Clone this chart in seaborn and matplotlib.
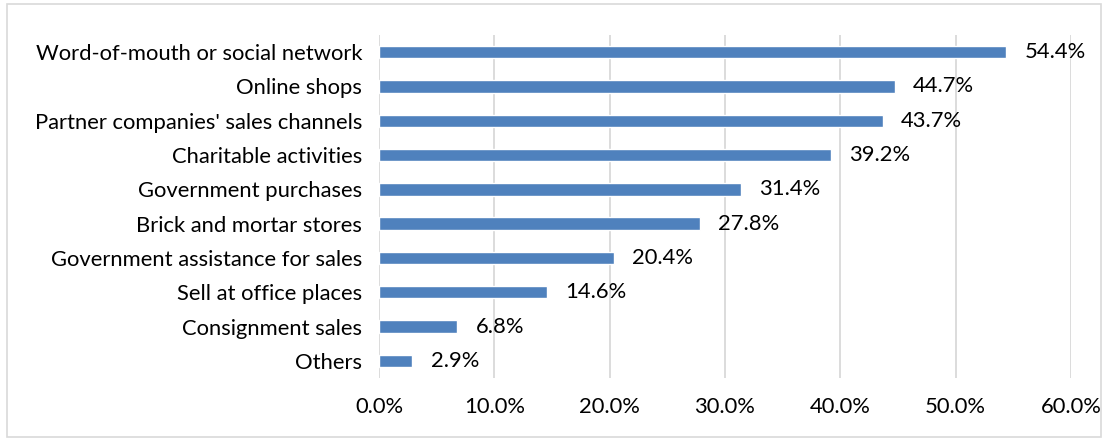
import matplotlib
matplotlib.use("Agg")
import matplotlib.pyplot as plt
import seaborn as sns
import pandas as pd
from matplotlib.patches import Rectangle
from matplotlib.ticker import FuncFormatter

categories = [
    "Word-of-mouth or social network",
    "Online shops",
    "Partner companies' sales channels",
    "Charitable activities",
    "Government purchases",
    "Brick and mortar stores",
    "Government assistance for sales",
    "Sell at office places",
    "Consignment sales",
    "Others",
]
values = [54.4, 44.7, 43.7, 39.2, 31.4, 27.8, 20.4, 14.6, 6.8, 2.9]
xticks = [0, 10, 20, 30, 40, 50, 60]

df = pd.DataFrame({"channel": categories, "pct": values})

sns.set_theme(style="white")
plt.rcParams["font.family"] = ["Lato", "DejaVu Sans"]

FS = 15.8

fig = plt.figure(figsize=(11.08, 4.41), dpi=100)
ax = fig.add_axes([379 / 1108, 1 - 378 / 441, (1071 - 379) / 1108, (378 - 35) / 441])

sns.barplot(data=df, x="pct", y="channel", color="#4F81BD", width=0.36,
            saturation=1, ax=ax, orient="h")

ax.set_xlim(0, 60)
ax.set_xticks(xticks)
ax.xaxis.set_major_formatter(FuncFormatter(lambda v, p: f"{v:.1f}%"))
ax.grid(axis="x", color="#D9D9D9", linewidth=1.3)
ax.set_axisbelow(True)
for s in ax.spines.values():
    s.set_visible(False)
ax.tick_params(axis="both", length=0, labelsize=FS, colors="#000000")
ax.tick_params(axis="y", pad=12)
ax.tick_params(axis="x", pad=14)
ax.set_xlabel("")
ax.set_ylabel("")

for i, v in enumerate(values):
    ax.annotate(f"{v:.1f}%", xy=(v, i), xytext=(13, 0), textcoords="offset points",
                va="center", ha="left", fontsize=FS, color="#000000")

fig.patches.append(Rectangle((7 / 1108, 1 - 437 / 441), (1101 - 7) / 1108, (437 - 4) / 441,
                             transform=fig.transFigure, fill=False,
                             edgecolor="#D9D9D9", linewidth=1.2))

fig.savefig("out.png", dpi=100, facecolor="white")
